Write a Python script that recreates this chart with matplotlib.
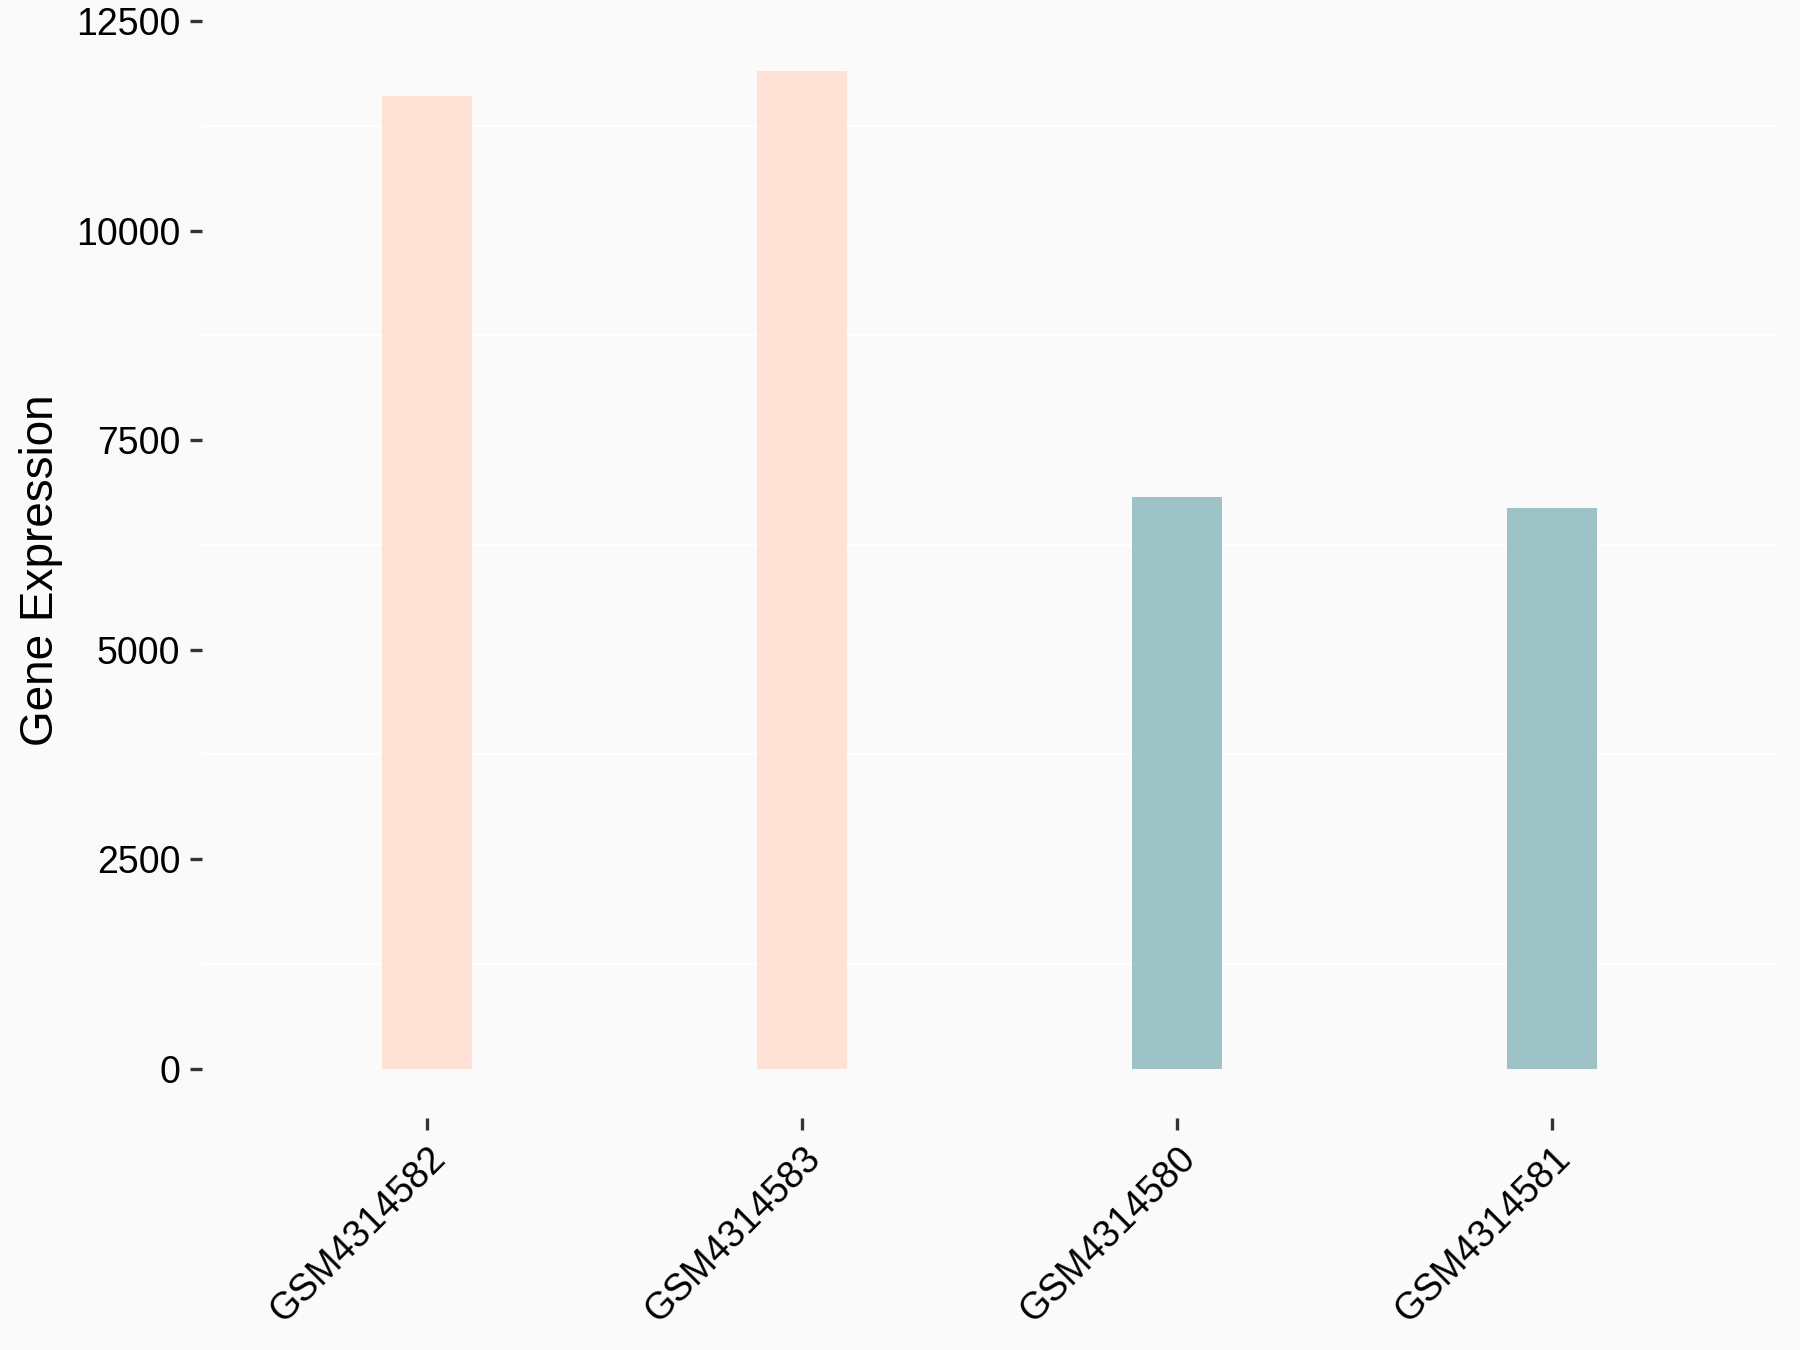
import matplotlib.pyplot as plt
import numpy as np

plt.rcParams['font.family'] = ['Liberation Sans', 'DejaVu Sans']

samples = ['GSM4314582', 'GSM4314583', 'GSM4314580', 'GSM4314581']
expression = [11600, 11900, 6815, 6690]
groups = ['A', 'A', 'B', 'B']
group_colors = {'A': '#FFE1D6', 'B': '#9DC3C7'}
y_ticks = [0, 2500, 5000, 7500, 10000, 12500]
y_minor = [1250, 3750, 6250, 8750, 11250]

bg = '#FAFAFA'
fig = plt.figure(figsize=(12, 9), dpi=150, facecolor=bg)
ax = fig.add_axes([0.1122, 0.1715, 0.8750, 0.8129], facecolor=bg)

x = np.arange(len(samples))
ax.bar(x, expression, width=0.24, color=[group_colors[g] for g in groups], zorder=2)

ax.set_xlim(-0.6, len(samples) - 0.4)
ymax = max(expression)
ax.set_ylim(-0.05 * ymax, 1.05 * ymax)

ax.set_yticks(y_ticks)
ax.set_yticklabels([str(t) for t in y_ticks])
ax.set_yticks(y_minor, minor=True)
ax.grid(which='minor', axis='y', color='white', linewidth=1.0, zorder=0)
ax.tick_params(axis='y', which='minor', length=0)

ax.set_xticks(x)
ax.set_xticklabels(samples, rotation=45, ha='right', va='top', rotation_mode='anchor')

for s in ax.spines.values():
    s.set_visible(False)

ax.tick_params(axis='both', which='major', labelsize=18, colors='#333333',
               labelcolor='black', length=5.8, width=1.6, pad=4.5)

ax.set_ylabel('Gene Expression', fontsize=22, color='black')
ax.yaxis.set_label_coords(-0.102, 0.5)
ax.yaxis.label.set_va('center')

fig.savefig('out.png', dpi=150, facecolor=bg)
